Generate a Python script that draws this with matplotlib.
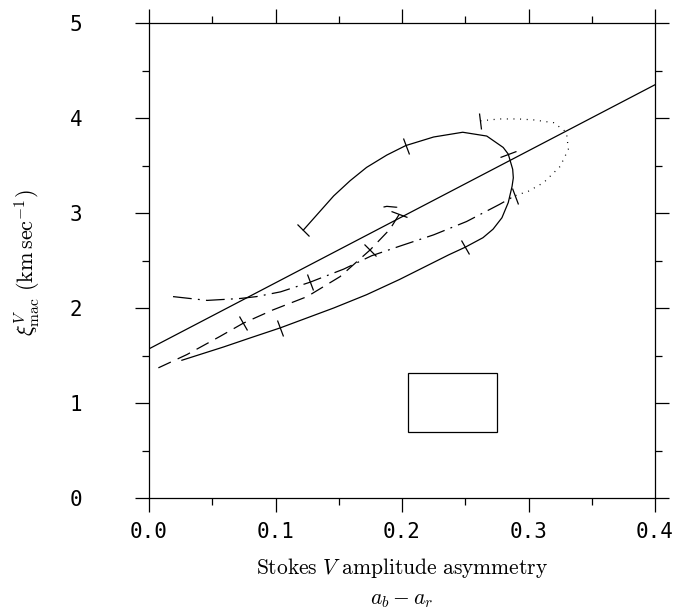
import matplotlib
matplotlib.use("Agg")
import matplotlib.pyplot as plt
import numpy as np
from matplotlib.markers import MarkerStyle
from matplotlib.patches import Rectangle
from matplotlib.ticker import MultipleLocator
from matplotlib.transforms import Affine2D

plt.rcParams["mathtext.fontset"] = "cm"

# least-squares line through the whole sample
FIT_X = [0.0, 0.4]
FIT_Y = [1.57, 4.35]

# solid loop
LOOP_X = [0.122, 0.134, 0.146, 0.159, 0.172, 0.188, 0.203, 0.225, 0.248, 0.267, 0.280,
          0.284, 0.2875, 0.288, 0.287, 0.284, 0.279, 0.272, 0.264, 0.250, 0.237, 0.225,
          0.198, 0.172, 0.146, 0.1036, 0.080, 0.059, 0.026]
LOOP_Y = [2.82, 3.00, 3.18, 3.34, 3.48, 3.61, 3.71, 3.80, 3.85, 3.81, 3.69,
          3.62, 3.46, 3.37, 3.28, 3.11, 2.95, 2.83, 2.74, 2.64, 2.56, 2.48,
          2.30, 2.14, 2.00, 1.79, 1.685, 1.59, 1.45]
LOOP_TICK_X = [0.122, 0.203, 0.284, 0.250, 0.1036]
LOOP_TICK_Y = [2.82, 3.71, 3.62, 2.64, 1.79]

# dotted branch
DOT_X = [0.262, 0.277, 0.292, 0.304, 0.320, 0.330, 0.3315, 0.325, 0.312, 0.300, 0.289]
DOT_Y = [3.97, 3.99, 3.99, 3.98, 3.95, 3.85, 3.67, 3.49, 3.32, 3.23, 3.18]
DOT_TICK_X = [0.262, 0.289]
DOT_TICK_Y = [3.97, 3.18]

# dash-dot branch
DASHDOT_X = [0.019, 0.046, 0.072, 0.085, 0.104, 0.127, 0.154, 0.176, 0.198, 0.225,
             0.251, 0.277, 0.289]
DASHDOT_Y = [2.12, 2.08, 2.10, 2.12, 2.17, 2.27, 2.41, 2.55, 2.65, 2.77,
             2.91, 3.09, 3.18]
DASHDOT_TICK_X = [0.127]
DASHDOT_TICK_Y = [2.27]

# dashed branch
DASH_X = [0.0074, 0.030, 0.056, 0.0745, 0.098, 0.125, 0.151, 0.1747, 0.1905, 0.198,
          0.196, 0.188, 0.181]
DASH_Y = [1.37, 1.51, 1.70, 1.84, 1.98, 2.12, 2.33, 2.61, 2.83, 2.99,
          3.06, 3.07, 3.05]
DASH_TICK_X = [0.0745, 0.1747, 0.198]
DASH_TICK_Y = [1.84, 2.61, 2.99]

# empty key box
BOX_X0, BOX_Y0, BOX_W, BOX_H = 0.205, 0.70, 0.070, 0.615

X_TICKS = [0.0, 0.1, 0.2, 0.3, 0.4]
X_LABELS = ["0.0", "0.1", "0.2", "0.3", "0.4"]
Y_TICKS = [0, 1, 2, 3, 4, 5]
Y_LABELS = ["0", "1", "2", "3", "4", "5"]

fig = plt.figure(figsize=(6.77, 6.10), dpi=100)
ax = fig.add_axes([149 / 677, 112 / 610, 506 / 677, 475 / 610])
ax.set_xlim(0, 0.4)
ax.set_ylim(0, 5)

lw = 0.9
ax.plot(FIT_X, FIT_Y, color="black", lw=lw)
ax.plot(LOOP_X, LOOP_Y, color="black", lw=lw)
ax.plot(DOT_X, DOT_Y, color="black", lw=lw, linestyle=(0, (0.8, 4.5)))
ax.plot(DASHDOT_X, DASHDOT_Y, color="black", lw=lw, linestyle=(0, (15, 5, 1.5, 5)))
ax.plot(DASH_X, DASH_Y, color="black", lw=lw, linestyle=(0, (11, 6)))
ax.add_patch(Rectangle((BOX_X0, BOX_Y0), BOX_W, BOX_H, fill=False, ec="black", lw=lw))


def tick_marks(cx, cy, tx, ty):
    """Short bars across a curve at the given points."""
    pts = ax.transData.transform(np.column_stack([cx, cy]))
    for x, y in zip(tx, ty):
        p = ax.transData.transform((x, y))
        i = int(np.argmin(np.hypot(*(pts - p).T)))
        a = pts[max(i - 1, 0)]
        b = pts[min(i + 1, len(pts) - 1)]
        ang = np.degrees(np.arctan2(b[1] - a[1], b[0] - a[0]))
        m = MarkerStyle("|", transform=Affine2D().rotate_deg(ang))
        ax.plot([x], [y], marker=m, markersize=12, mew=lw, color="black", ls="none")


tick_marks(LOOP_X, LOOP_Y, LOOP_TICK_X, LOOP_TICK_Y)
tick_marks(DOT_X, DOT_Y, DOT_TICK_X, DOT_TICK_Y)
tick_marks(DASHDOT_X, DASHDOT_Y, DASHDOT_TICK_X, DASHDOT_TICK_Y)
tick_marks(DASH_X, DASH_Y, DASH_TICK_X, DASH_TICK_Y)

for s in ax.spines.values():
    s.set_linewidth(lw)

ax.set_xticks(X_TICKS, labels=X_LABELS)
ax.set_yticks(Y_TICKS, labels=Y_LABELS)
ax.xaxis.set_minor_locator(MultipleLocator(0.05))
ax.yaxis.set_minor_locator(MultipleLocator(0.5))
ax.tick_params(which="both", direction="out", top=True, right=True, width=0.9)
ax.tick_params(which="major", length=10)
ax.tick_params(which="minor", length=5)
ax.tick_params(axis="x", pad=7)
ax.tick_params(axis="y", pad=38)
for lab in ax.get_xticklabels() + ax.get_yticklabels():
    lab.set_family("DejaVu Sans Mono")
    lab.set_fontsize(15)

fig.text(402 / 677, 1 - 568 / 610, r"$\mathrm{Stokes}\ V\ \mathrm{amplitude\ asymmetry}$",
         ha="center", va="center", fontsize=15.5)
fig.text(402 / 677, 1 - 600 / 610, r"$a_b - a_r$", ha="center", va="center", fontsize=15.5)
fig.text(28 / 677, 1 - 263 / 610, r"$\xi^V_{\mathrm{mac}}\ (\mathrm{km\,sec}^{-1})$",
         ha="center", va="center", rotation=90, fontsize=16)

fig.savefig("out.png", dpi=100)
